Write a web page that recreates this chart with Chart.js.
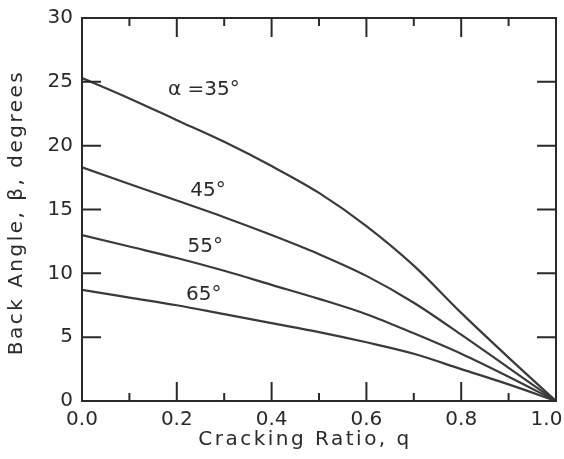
<!DOCTYPE html>
<html>
<head>
<meta charset="utf-8">
<script src="https://cdn.jsdelivr.net/npm/chart.js@4/dist/chart.umd.min.js"></script>
<style>
  html, body { margin: 0; padding: 0; background: #ffffff; }
  #wrap { width: 564px; height: 459px; }
</style>
</head>
<body>
<div id="wrap"><canvas id="c" width="564" height="459"></canvas></div>
<script>
// ---- data ----
const crackingRatio = [0.0, 0.1, 0.2, 0.3, 0.4, 0.5, 0.6, 0.7, 0.8, 0.9, 1.0];
const beta35 = [25.3, 23.7, 22.0, 20.3, 18.4, 16.3, 13.7, 10.6, 6.9, 3.4, 0];
const beta45 = [18.3, 17.0, 15.7, 14.4, 13.0, 11.5, 9.8, 7.7, 5.2, 2.6, 0];
const beta55 = [13.0, 12.1, 11.2, 10.2, 9.1, 8.0, 6.8, 5.3, 3.7, 1.9, 0];
const beta65 = [8.7, 8.1, 7.5, 6.8, 6.1, 5.4, 4.6, 3.7, 2.5, 1.3, 0];
const seriesLabels = ['α =35°', '45°', '55°', '65°'];
const labelAnchorQ = [0.257, 0.266, 0.26, 0.257];
const labelAnchorBeta = [24.4, 16.5, 12.1, 8.3];
const xTickValues = [0.0, 0.2, 0.4, 0.6, 0.8, 1.0];
const xMinorValues = [0.1, 0.3, 0.5, 0.7, 0.9];
const yTickValues = [0, 5, 10, 15, 20, 25, 30];
const xTitle = 'Cracking Ratio, q';
const yTitle = 'Back Angle, β, degrees';

const INK = '#2a2a2a';
const LINE = '#3a3a3a';
const FONT = '"DejaVu Sans", "Liberation Sans", sans-serif';

function series(vals) {
  return crackingRatio.map((q, i) => ({ x: q, y: vals[i] }));
}

const ds = [beta35, beta45, beta55, beta65].map((v, i) => ({
  label: seriesLabels[i],
  data: series(v),
  borderColor: LINE,
  borderWidth: 2.2,
  pointRadius: 0,
  fill: false,
  cubicInterpolationMode: 'monotone'
}));

const frameAndTicks = {
  id: 'frameAndTicks',
  afterDatasetsDraw(chart) {
    const ctx = chart.ctx;
    const a = chart.chartArea;
    const xs = chart.scales.x, ys = chart.scales.y;
    ctx.save();
    ctx.strokeStyle = INK;
    ctx.lineWidth = 2;
    ctx.strokeRect(a.left, a.top, a.right - a.left, a.bottom - a.top);
    ctx.beginPath();
    const major = 19, minor = 8;
    xTickValues.forEach(v => {
      const px = xs.getPixelForValue(v);
      ctx.moveTo(px, a.bottom); ctx.lineTo(px, a.bottom - major);
      ctx.moveTo(px, a.top); ctx.lineTo(px, a.top + major);
    });
    xMinorValues.forEach(v => {
      const px = xs.getPixelForValue(v);
      ctx.moveTo(px, a.bottom); ctx.lineTo(px, a.bottom - minor);
      ctx.moveTo(px, a.top); ctx.lineTo(px, a.top + minor);
    });
    yTickValues.forEach(v => {
      const py = ys.getPixelForValue(v);
      ctx.moveTo(a.left, py); ctx.lineTo(a.left + major, py);
      ctx.moveTo(a.right, py); ctx.lineTo(a.right - major, py);
    });
    ctx.stroke();

    // curve labels
    ctx.fillStyle = INK;
    ctx.font = '20px ' + FONT;
    ctx.textAlign = 'center';
    ctx.textBaseline = 'middle';
    seriesLabels.forEach((t, i) => {
      ctx.fillText(t, xs.getPixelForValue(labelAnchorQ[i]), ys.getPixelForValue(labelAnchorBeta[i]));
    });

    // axis titles (letter-spaced lettering)
    ctx.font = '20px ' + FONT;
    try { ctx.letterSpacing = '2.5px'; } catch (e) {}
    ctx.textBaseline = 'middle';
    ctx.fillText(xTitle, (a.left + a.right) / 2 - 14, 440);
    ctx.save();
    ctx.translate(17, (a.top + a.bottom) / 2 + 3);
    ctx.rotate(-Math.PI / 2);
    ctx.fillText(yTitle, 0, 0);
    ctx.restore();
    ctx.restore();
  }
};

new Chart(document.getElementById('c'), {
  type: 'line',
  data: { datasets: ds },
  options: {
    responsive: false,
    animation: false,
    layout: { padding: { top: 18, right: 8, left: 0, bottom: 0 } },
    plugins: { legend: { display: false }, tooltip: { enabled: false } },
    scales: {
      x: {
        type: 'linear', min: 0, max: 1,
        afterBuildTicks(s) { s.ticks = xTickValues.map(v => ({ value: v })); },
        afterFit(s) { s.height = 58; s.paddingRight = 0; s.paddingLeft = 0; },
        grid: { display: false, drawTicks: false },
        border: { display: false },
        ticks: {
          padding: 7, color: INK, maxRotation: 0, autoSkip: false,
          font: { family: FONT, size: 20 },
          callback: (v) => v === 1 ? '1.0\u00a0\u00a0\u00a0' : Number(v).toFixed(1)
        }
      },
      y: {
        type: 'linear', min: 0, max: 30,
        afterBuildTicks(s) { s.ticks = yTickValues.map(v => ({ value: v })); },
        afterFit(s) { s.width = 82; s.paddingTop = 0; s.paddingBottom = 0; },
        grid: { display: false, drawTicks: false },
        border: { display: false },
        ticks: {
          padding: 9, color: INK, autoSkip: false,
          font: { family: FONT, size: 20 }
        }
      }
    }
  },
  plugins: [frameAndTicks]
});
</script>
</body>
</html>
